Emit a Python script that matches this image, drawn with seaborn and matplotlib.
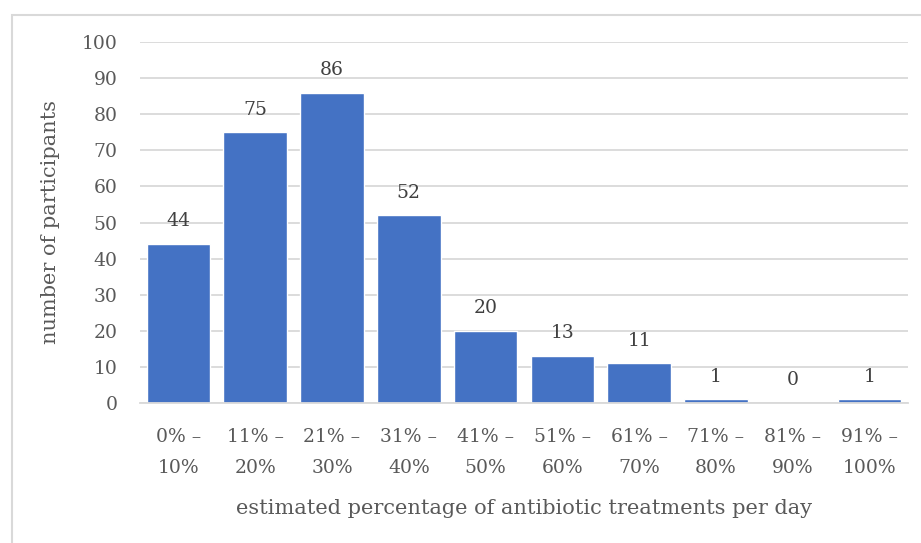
import matplotlib
matplotlib.use("Agg")
import matplotlib.pyplot as plt
from matplotlib.patches import Rectangle
import seaborn as sns
import pandas as pd

categories = ["0% –\n10%", "11% –\n20%", "21% –\n30%", "31% –\n40%", "41% –\n50%",
              "51% –\n60%", "61% –\n70%", "71% –\n80%", "81% –\n90%", "91% –\n100%"]
participants = [44, 75, 86, 52, 20, 13, 11, 1, 0, 1]
y_ticks = [0, 10, 20, 30, 40, 50, 60, 70, 80, 90, 100]

df = pd.DataFrame({"range": categories, "count": participants})

sns.set_theme(style="white")
plt.rcParams["font.family"] = ["DejaVu Serif"]
text_color = "#595959"
grid_color = "#d9d9d9"
bar_color = "#4472c4"

fig = plt.figure(figsize=(9.21, 5.43), dpi=100)
ax = fig.add_axes([140 / 921, 1 - 403 / 543, 768 / 921, 361 / 543])

sns.barplot(data=df, x="range", y="count", color=bar_color, width=0.83,
            saturation=1, ax=ax, zorder=3)

ax.set_ylim(0, 100)
ax.set_xlim(-0.5, len(categories) - 0.5)
ax.set_yticks(y_ticks)
ax.yaxis.grid(True, color=grid_color, linewidth=1.3, zorder=0)
ax.xaxis.grid(False)
for s in ["top", "right", "left"]:
    ax.spines[s].set_visible(False)
ax.spines["bottom"].set_color(grid_color)
ax.spines["bottom"].set_linewidth(1.3)
ax.spines["bottom"].set_zorder(4)

ax.tick_params(axis="y", length=0, pad=16, labelsize=13.5, labelcolor=text_color)
ax.set_xticks([i - 0.5 for i in range(len(categories) + 1)], minor=True)
ax.tick_params(axis="x", which="major", length=0, pad=18, labelsize=13.5,
               labelcolor=text_color)
for lbl in ax.get_xticklabels():
    lbl.set_linespacing(1.9)
ax.tick_params(axis="x", which="minor", length=7, width=1.3, color=grid_color,
               direction="out")

for i, v in enumerate(participants):
    ax.text(i, v + 3.8, str(v), ha="center", va="bottom", fontsize=13.5,
            color="#404040")

ax.set_xlabel("estimated percentage of antibiotic treatments per day",
              fontsize=15, color=text_color, labelpad=16)
ax.set_ylabel("number of participants", fontsize=15, color=text_color,
              labelpad=16)

fig.patches.append(Rectangle((12 / 921, -0.01), 1.0, 1 - 15 / 543 + 0.01,
                             transform=fig.transFigure, fill=False,
                             edgecolor="#d9d9d9", linewidth=1.5, zorder=0))

fig.savefig("out.png", dpi=100, facecolor="white")
